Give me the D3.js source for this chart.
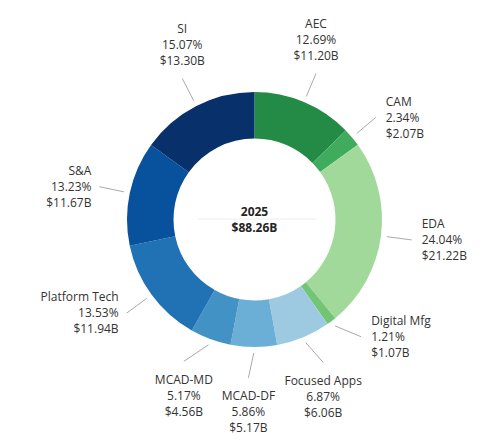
<!DOCTYPE html>
<html>
<head>
<meta charset="utf-8">
<script src="https://cdn.jsdelivr.net/npm/d3@7"></script>
<style>
  body { margin: 0; background: #fff; }
  svg { font-family: "Segoe UI", "Open Sans", sans-serif; }
  .lbl { font-size: 12px; fill: #333; }
  .center { font-size: 12px; font-weight: bold; fill: #252423; }
</style>
</head>
<body>
<div id="chart"></div>
<script>
// segments, clockwise from 12 o'clock
const segments = ['AEC', 'CAM', 'EDA', 'Digital Mfg', 'Focused Apps', 'MCAD-DF', 'MCAD-MD', 'Platform Tech', 'S&A', 'SI'];
const revenue = [11.20, 2.07, 21.22, 1.07, 6.06, 5.17, 4.56, 11.94, 11.67, 13.30];
const shares = ['12.69%', '2.34%', '24.04%', '1.21%', '6.87%', '5.86%', '5.17%', '13.53%', '13.23%', '15.07%'];
const colors = ['#238b45', '#41ab5d', '#a1d99b', '#74c476', '#9ecae1', '#6baed6', '#4292c6', '#2171b5', '#08519c', '#08306b'];
const year = '2025';
const total = '$88.26B';

const width = 498;
const height = 445;
const cx = 254.5;
const cy = 219.5;
const outer = 127.5;
const inner = 81;
const lineH = 16;
const labelR = outer + 31;
const padX = 9;
const padY = 15;

const svg = d3.select('#chart')
  .append('svg')
  .attr('width', width)
  .attr('height', height);

const g = svg.append('g')
  .attr('transform', `translate(${cx}, ${cy})`);

const data = segments.map((name, i) => ({ name, value: revenue[i], share: shares[i], color: colors[i] }));

const pie = d3.pie()
  .sort(null)
  .value(d => d.value);

const arc = d3.arc()
  .innerRadius(inner)
  .outerRadius(outer);

const arcs = pie(data);

g.selectAll('path.slice')
  .data(arcs)
  .join('path')
  .attr('class', 'slice')
  .attr('d', arc)
  .attr('fill', d => d.data.color);

const mid = d => (d.startAngle + d.endAngle) / 2;
const polar = (a, r) => [Math.sin(a) * r, -Math.cos(a) * r];

// label text first, so widths can be measured
const labels = g.selectAll('text.lbl')
  .data(arcs)
  .join('text')
  .attr('class', 'lbl')
  .each(function (d) {
    const t = d3.select(this);
    [d.data.name, d.data.share, `$${d.data.value.toFixed(2)}B`].forEach(s => {
      t.append('tspan').attr('dy', '0.35em').text(s);
    });
    d.w = d3.max(t.selectAll('tspan').nodes(), n => n.getComputedTextLength());
    d.la = mid(d);
  });

// where a label sits for a given anchor angle
function place(d) {
  const [x, y] = polar(d.la, labelR);
  const deg = ((d.la * 180 / Math.PI) % 360 + 360) % 360;
  const h = lineH * 3;
  if (deg < 30 || deg > 330) {
    d.anchor = 'middle'; d.tx = x; d.ty = y - 10 - lineH * 2.5;
    d.box = [x - d.w / 2, y - 10 - h, x + d.w / 2, y - 10];
  } else if (Math.abs(deg - 180) < 30) {
    d.anchor = 'middle'; d.tx = x; d.ty = y + 10 + lineH * 0.5;
    d.box = [x - d.w / 2, y + 10, x + d.w / 2, y + 10 + h];
  } else if (deg < 180) {
    d.anchor = 'start'; d.tx = x + 10; d.ty = y - lineH;
    d.box = [x + 10, y - h / 2, x + 10 + d.w, y + h / 2];
  } else {
    d.anchor = 'end'; d.tx = x - 8; d.ty = y - lineH;
    d.box = [x - 8 - d.w, y - h / 2, x - 8, y + h / 2];
  }
  d.ex = x; d.ey = y;
}

const hit = (a, b) => a[0] - padX < b[2] && b[0] - padX < a[2] && a[1] - padY < b[3] && b[1] - padY < a[3];

// spread crowded labels apart along the circle, with a weak pull back to the slice
arcs.forEach(place);
for (let k = 0; k < 800; k++) {
  for (let i = 0; i < arcs.length; i++) {
    const a = arcs[i];
    const b = arcs[(i + 1) % arcs.length];
    if (hit(a.box, b.box)) {
      a.la -= 0.003;
      b.la += 0.003;
    }
  }
  arcs.forEach(d => { d.la += (mid(d) - d.la) * 0.008; });
  arcs.forEach(place);
}

labels
  .attr('text-anchor', d => d.anchor)
  .each(function (d) {
    d3.select(this).selectAll('tspan')
      .attr('x', d.tx)
      .attr('y', (s, i) => d.ty + i * lineH);
  });

// leader lines
g.selectAll('line.leader')
  .data(arcs)
  .join('line')
  .attr('class', 'leader')
  .attr('x1', d => polar(mid(d), outer + 6)[0])
  .attr('y1', d => polar(mid(d), outer + 6)[1])
  .attr('x2', d => d.ex)
  .attr('y2', d => d.ey)
  .attr('stroke', '#aaa')
  .attr('stroke-width', 1);

// center
g.append('text')
  .attr('class', 'center')
  .attr('text-anchor', 'middle')
  .attr('y', -7.5)
  .attr('dy', '0.35em')
  .text(year);

g.append('line')
  .attr('x1', -57)
  .attr('x2', 62)
  .attr('y1', -0.5)
  .attr('y2', -0.5)
  .attr('stroke', '#eee')
  .attr('stroke-width', 1);

g.append('text')
  .attr('class', 'center')
  .attr('text-anchor', 'middle')
  .attr('y', 8)
  .attr('dy', '0.35em')
  .text(total);
</script>
</body>
</html>
